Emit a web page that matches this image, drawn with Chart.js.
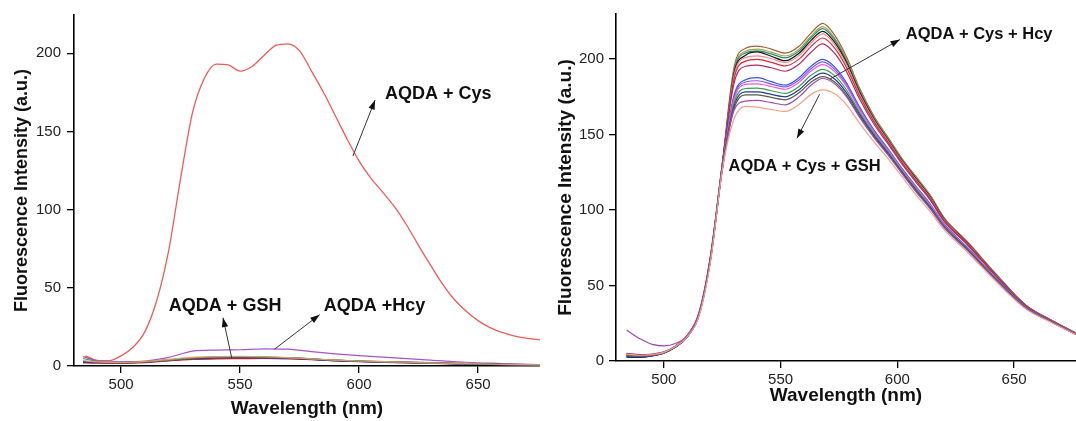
<!DOCTYPE html>
<html>
<head>
<meta charset="utf-8">
<title>AQDA fluorescence spectra</title>
<script src="https://cdn.jsdelivr.net/npm/chart.js@4/dist/chart.umd.min.js"></script>
<style>
  body { margin: 0; background: #fff; }
  #leftBox { position: absolute; left: 0; top: 0; }
  #rightBox { position: absolute; left: 540px; top: 0; }
</style>
</head>
<body>
<div id="leftBox"><canvas id="leftChart" width="540" height="421"></canvas></div>
<div id="rightBox"><canvas id="rightChart" width="536" height="421"></canvas></div>
<script>
'use strict'

// *********LEFT PANEL DATA (AQDA + single thiols)***********

let leftWavelengths = [485, 490, 495, 500, 505, 510, 515, 520, 525, 530, 535, 540, 545, 550, 555, 560, 565, 570, 575, 580, 585, 590, 595, 600, 605, 610, 615, 620, 625, 630, 635, 640, 645, 650, 655, 660, 665, 670, 677];
let cysValues = [6.5, 3.6, 3.4, 6.5, 12, 22, 42, 74, 120, 162, 184, 193, 192.5, 188.5, 191.5, 198.5, 205, 206, 201.5, 188.5, 175, 160, 145, 131, 120, 111, 101.5, 90, 77, 64.5, 52.5, 42.5, 35, 29, 24.5, 21.5, 19.3, 17.8, 16.6];

let lowWavelengths = [484, 490, 500, 510, 520, 530, 540, 550, 560, 570, 580, 590, 600, 615, 630, 645, 660, 677];
let hcyValues = [6, 3.5, 2.8, 3.2, 5.5, 9.5, 10.2, 10.4, 11, 10.8, 9.2, 7.8, 6.6, 5.2, 3.8, 2.4, 1.6, 0.8];
let gshValues = [2.5, 2.2, 2, 2.5, 3.6, 4.8, 5.3, 5.4, 5.5, 5.2, 4.5, 3.6, 3, 2.5, 2, 1.4, 1, 0.6];
let blankValues = [3, 2.4, 2.2, 2.8, 4, 5, 5.6, 5.8, 5.6, 5.2, 4.3, 3.5, 2.9, 2.3, 1.8, 1.3, 0.9, 0.6];
let otherA = [4.8, 3, 2.2, 2.6, 3.8, 5, 5.8, 5.9, 5.7, 5.3, 4.5, 3.7, 3.1, 2.5, 1.9, 1.4, 1, 0.7];
let otherB = [2, 1.8, 1.8, 2.2, 3.3, 4.2, 4.6, 4.7, 4.8, 4.6, 4, 3.3, 2.8, 2.2, 1.7, 1.2, 0.8, 0.5];
let otherC = [2.8, 2.3, 2.1, 2.6, 3.7, 4.9, 5.4, 5.5, 5.4, 5, 4.2, 3.4, 2.9, 2.4, 1.9, 1.3, 0.9, 0.6];
let otherD = [3.5, 2.6, 2.3, 2.9, 4.2, 5.5, 6, 6.1, 5.9, 5.4, 4.6, 3.8, 3.2, 2.6, 2, 1.5, 1.1, 0.7];

// *********RIGHT PANEL DATA (AQDA + Cys + other thiols)***********

let rightWavelengths = [484, 490, 495, 500, 505, 510, 515, 520, 525, 530, 535, 540, 546, 552, 558, 563, 568, 573, 578, 584, 590, 596, 602, 608, 614, 620, 630, 642, 655, 666, 677];
let mixBrown = [4.5, 3.8, 4.3, 5.8, 9.8, 16.5, 30.5, 69, 130, 194, 207, 208.5, 206.5, 203.8, 208.5, 217, 223.5, 216, 202, 180, 162, 148, 134, 122, 110, 95, 79, 58, 37, 27, 18];
let mixOlive = [3.2, 3, 3.8, 5.5, 9.5, 16.5, 31, 69, 130, 192.3, 205.1, 206.5, 204.5, 201.9, 206.6, 215, 221.3, 214, 200.4, 178.9, 161.2, 147.3, 133.4, 121.4, 109.5, 94.6, 78.7, 57.8, 36.9, 26.9, 18];
let mixTeal = [3.8, 3.2, 4, 5.6, 9.6, 16, 30, 68, 129, 191.3, 203.9, 205.3, 203.3, 200.7, 205.4, 213.8, 220, 212.9, 199.4, 178.2, 160.6, 146.9, 133, 121, 109.1, 94.4, 78.4, 57.6, 36.8, 26.9, 17.9];
let mixBlack = [2.5, 2.4, 3.4, 5.3, 9.2, 16, 30.5, 68.5, 129, 189.9, 202.4, 204.6, 201.7, 198.8, 203.9, 212.1, 218.2, 211.3, 198.2, 177.2, 160, 146.3, 132.6, 120.6, 108.7, 94, 78.2, 57.4, 36.7, 26.8, 17.9];
let mixPink = [4.8, 4, 4.4, 5.8, 9.6, 16.2, 30.5, 68, 129, 188.6, 200.8, 202, 200.1, 197.6, 202.3, 210.5, 216.5, 209.8, 196.9, 176.3, 159.3, 145.8, 132.1, 120.1, 108.2, 93.7, 77.9, 57.2, 36.6, 26.8, 17.8];
let mixRed = [4.2, 3.6, 4.1, 5.7, 9.8, 16.8, 31.5, 69.5, 130, 186.5, 198.5, 199.6, 197.7, 195.3, 200, 208.1, 213.8, 207.4, 195, 174.9, 158.3, 144.9, 131.4, 119.4, 107.6, 93.2, 77.5, 56.9, 36.5, 26.7, 17.8];
let mixCrimson = [5, 4.2, 4.6, 6, 10, 17, 32, 70, 130, 183.5, 195.1, 195.9, 194.1, 191.8, 196.6, 204.4, 209.9, 203.9, 192.1, 172.9, 156.7, 143.7, 130.3, 118.3, 106.6, 92.5, 76.8, 56.5, 36.2, 26.5, 17.7];
let mixBlue = [3, 2.8, 3.6, 5.3, 9.4, 16.3, 30.5, 68, 128, 175.6, 186.2, 187.6, 184.9, 182.6, 187.7, 195.1, 199.7, 194.9, 184.7, 167.6, 152.8, 140.4, 127.5, 115.5, 104.1, 90.7, 75.2, 55.3, 35.7, 26.2, 17.5];
let mixViolet = [3.5, 3, 3.8, 5.5, 9.5, 16.2, 30.5, 68, 128, 174.3, 184.7, 185.5, 183.3, 181.4, 186.2, 193.5, 198, 193.4, 183.4, 166.7, 152.1, 139.9, 127, 115, 103.6, 90.4, 74.9, 55.1, 35.6, 26.1, 17.4];
let mixMagenta = [4, 3.4, 4.1, 5.8, 9.8, 16.6, 31, 68.5, 128, 172.9, 183.1, 183.4, 181.7, 179.9, 184.6, 191.9, 196.2, 191.8, 182.2, 165.7, 151.5, 139.3, 126.6, 114.6, 103.2, 90, 74.7, 54.9, 35.5, 26.1, 17.4];
let mixGreen = [3.6, 3.2, 3.9, 5.6, 9.5, 16, 30, 67, 127, 170.5, 180.4, 180.6, 178.9, 177.2, 181.9, 189.1, 193.1, 189.1, 179.9, 164.1, 150.3, 138.3, 125.7, 113.7, 102.4, 89.5, 74.2, 54.6, 35.3, 26, 17.3];
let mixNavy = [2.8, 2.6, 3.4, 5.2, 9.2, 16, 30.5, 68, 127, 168.5, 178.1, 178.1, 176.5, 174.9, 179.6, 186.6, 190.5, 186.8, 178, 162.8, 149.3, 137.5, 125, 113, 101.8, 89, 73.8, 54.3, 35.1, 25.9, 17.3];
let mixGray = [3.4, 3, 3.8, 5.5, 9.4, 16.2, 30.3, 67.5, 127, 166.8, 176.2, 176.1, 174.5, 172.9, 177.7, 184.6, 188.3, 184.8, 176.4, 161.6, 148.4, 136.8, 124.4, 112.4, 101.2, 88.6, 73.4, 54, 35, 25.8, 17.2];
let mixPurple = [20.5, 14.5, 11, 10, 11.6, 16.8, 30.5, 67.5, 126, 165.8, 172, 172.5, 171, 169.6, 175, 182.5, 187, 183.6, 175.4, 160.9, 147.9, 136.4, 124, 112, 100.9, 88.4, 73.2, 53.9, 34.9, 25.8, 17.2];
let mixSalmon = [4.5, 3.8, 4.2, 5.7, 9.6, 16, 29.5, 66, 126, 160, 168.5, 168, 166.5, 165.2, 170, 176.5, 179.5, 177, 170, 157, 145, 134, 122, 110, 99, 87, 72, 53, 34.5, 25.5, 17];

// tick labels on both panels
let yTickValues = [0, 50, 100, 150, 200];
let xTickValues = [500, 550, 600, 650];

// text labels with arrows, in data units: text at, arrow from -> to
let leftNotes = [
  { text: 'AQDA + Cys', at: [610.9, 173.8], align: 'left', from: [597.4, 134.2], to: [606.7, 170], size: 18 },
  { text: 'AQDA + GSH', at: [543.7, 38.6], align: 'center', from: [546.5, 5], to: [542.8, 30.9], size: 18 },
  { text: 'AQDA +Hcy', at: [585.1, 38.6], align: 'left', from: [564.4, 10.7], to: [583.4, 32.8], size: 18 }
];
let rightNotes = [
  { text: 'AQDA + Cys + Hcy', at: [603.6, 216.1], align: 'left', from: [571.1, 186.6], to: [601.1, 212.8], size: 16.5 },
  { text: 'AQDA + Cys + GSH', at: [527.7, 129.1], align: 'left', from: [566.7, 176.6], to: [557, 147.4], size: 16.5 }
];

// ********HELPER FUNCTIONS*********

const FONT = '"Liberation Sans", Arial, Helvetica, sans-serif';

function toPoints(xs, ys){
  let pts = [];
  for(let i = 0; i < xs.length; i++){
    pts.push({x: xs[i], y: ys[i]});
  }
  return pts;
}

function line(xs, ys, color, width = 1.2){
  return {
    data: toPoints(xs, ys),
    borderColor: color,
    borderWidth: width,
    pointRadius: 0,
    fill: false,
    cubicInterpolationMode: 'monotone'
  };
}

// draws the arrow + bold label annotations through the chart scales
function makeNotes(items){
  return {
    id: 'notes',
    afterDatasetsDraw(chart){
      let ctx = chart.ctx;
      let sx = chart.scales.x;
      let sy = chart.scales.y;
      ctx.save();
      items.forEach(n => {
        let x0 = sx.getPixelForValue(n.from[0]);
        let y0 = sy.getPixelForValue(n.from[1]);
        let x1 = sx.getPixelForValue(n.to[0]);
        let y1 = sy.getPixelForValue(n.to[1]);
        ctx.strokeStyle = '#333';
        ctx.fillStyle = '#111';
        ctx.lineWidth = 1;
        ctx.beginPath();
        ctx.moveTo(x0, y0);
        ctx.lineTo(x1, y1);
        ctx.stroke();
        let a = Math.atan2(y1 - y0, x1 - x0);
        ctx.beginPath();
        ctx.moveTo(x1, y1);
        ctx.lineTo(x1 - 10 * Math.cos(a - 0.33), y1 - 10 * Math.sin(a - 0.33));
        ctx.lineTo(x1 - 10 * Math.cos(a + 0.33), y1 - 10 * Math.sin(a + 0.33));
        ctx.closePath();
        ctx.fill();
        ctx.font = 'bold ' + n.size + 'px ' + FONT;
        ctx.textAlign = n.align;
        ctx.textBaseline = 'middle';
        ctx.fillText(n.text, sx.getPixelForValue(n.at[0]), sy.getPixelForValue(n.at[1]));
      });
      ctx.restore();
    }
  };
}

function keepTicks(list){
  return function(scale){
    scale.ticks = list.map(v => ({value: v}));
  };
}

function panelOptions(cfg){
  return {
    responsive: false,
    animation: false,
    devicePixelRatio: 1,
    layout: { padding: { top: 13, left: 0, right: 0, bottom: 0 } },
    plugins: { legend: { display: false }, tooltip: { enabled: false } },
    scales: {
      x: {
        type: 'linear',
        min: cfg.xMin,
        max: cfg.xMax,
        afterBuildTicks: keepTicks(xTickValues),
        afterFit(scale){ scale.height = cfg.xHeight; },
        border: { display: true, color: '#000', width: 1.6 },
        grid: { drawOnChartArea: false, drawTicks: true, tickLength: 7, color: '#000', lineWidth: 1.3 },
        ticks: { color: '#222', padding: 3, maxRotation: 0, font: { family: FONT, size: 15 } },
        title: { display: true, text: 'Wavelength (nm)', color: '#111', padding: { top: 0, bottom: cfg.xTitlePad }, font: { family: FONT, size: 19, weight: 'bold' } }
      },
      y: {
        type: 'linear',
        min: 0,
        max: cfg.yMax,
        afterBuildTicks: keepTicks(yTickValues),
        afterFit(scale){ scale.width = cfg.yWidth; },
        border: { display: true, color: '#000', width: 1.6 },
        grid: { drawOnChartArea: false, drawTicks: true, tickLength: 7, color: '#000', lineWidth: 1.3 },
        ticks: { color: '#222', padding: cfg.yTickPad, font: { family: FONT, size: 15 } },
        title: { display: true, text: 'Fluorescence Intensity (a.u.)', color: '#111', padding: { top: cfg.yTitlePad, bottom: 0 }, font: { family: FONT, size: cfg.yTitleSize, weight: 'bold' } }
      }
    }
  };
}

// ************LEFT CHART RENDER****************

new Chart(document.getElementById('leftChart'), {
  type: 'line',
  data: {
    datasets: [
      line(lowWavelengths, otherD, '#e39a6a'),
      line(lowWavelengths, otherA, '#3c9a4a'),
      line(lowWavelengths, blankValues, '#3050d0'),
      line(lowWavelengths, otherC, '#283a8a'),
      line(lowWavelengths, otherB, '#c02030'),
      line(lowWavelengths, gshValues, '#111111', 1.5),
      line(lowWavelengths, hcyValues, '#a455c8'),
      line(leftWavelengths, cysValues, '#ef5a5a', 1.3)
    ]
  },
  options: panelOptions({ xMin: 480.2, xMax: 676, yMax: 224.4, xHeight: 55, yWidth: 74, xTitlePad: 1, yTitlePad: 11, yTickPad: 6, yTitleSize: 18 }),
  plugins: [makeNotes(leftNotes)]
});

// ************RIGHT CHART RENDER****************

new Chart(document.getElementById('rightChart'), {
  type: 'line',
  data: {
    datasets: [
      line(rightWavelengths, mixSalmon, '#f0a088'),
      line(rightWavelengths, mixPurple, '#9a4fa8'),
      line(rightWavelengths, mixGray, '#5a5a5a'),
      line(rightWavelengths, mixNavy, '#2a3a88'),
      line(rightWavelengths, mixGreen, '#3aa04e'),
      line(rightWavelengths, mixMagenta, '#e25ed8'),
      line(rightWavelengths, mixViolet, '#8a58f0'),
      line(rightWavelengths, mixBlue, '#3355e8'),
      line(rightWavelengths, mixCrimson, '#b02a5c'),
      line(rightWavelengths, mixRed, '#d8283c'),
      line(rightWavelengths, mixPink, '#f08a8a'),
      line(rightWavelengths, mixBlack, '#141414'),
      line(rightWavelengths, mixTeal, '#2e8c70'),
      line(rightWavelengths, mixOlive, '#9aa84a'),
      line(rightWavelengths, mixBrown, '#a0603a')
    ]
  },
  options: panelOptions({ xMin: 479.5, xMax: 676.5, yMax: 229.7, xHeight: 60, yWidth: 76, xTitlePad: 14, yTitlePad: 14, yTickPad: 5, yTitleSize: 19 }),
  plugins: [makeNotes(rightNotes)]
});
</script>
</body>
</html>
